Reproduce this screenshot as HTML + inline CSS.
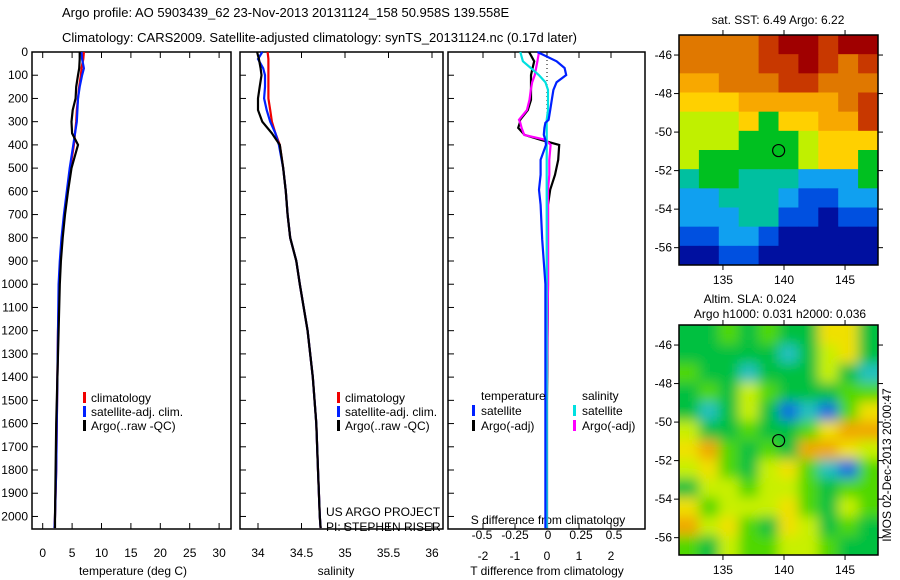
<!DOCTYPE html>
<html><head><meta charset="utf-8">
<style>
body{margin:0;background:#fff;}
svg{display:block;font-family:"Liberation Sans",sans-serif;font-size:12px;}
</style></head>
<body>
<svg id="fig" width="900" height="580">
<defs>
<filter id="blur" x="-5%" y="-5%" width="110%" height="110%"><feGaussianBlur stdDeviation="6"/></filter>
<clipPath id="slaClip"><rect x="679" y="325" width="199" height="230"/></clipPath>
</defs>
<text x="62" y="17" font-size="13">Argo profile: AO 5903439_62 23-Nov-2013 20131124_158 50.958S 139.558E</text>
<text x="62" y="42" font-size="13">Climatology: CARS2009. Satellite-adjusted climatology: synTS_20131124.nc (0.17d later)</text>
<g id="g"></g>
</svg>
<script>
// ---------- data ----------
const depthTicks=[0,100,200,300,400,500,600,700,800,900,1000,1100,1200,1300,1400,1500,1600,1700,1800,1900,2000];
const tempTicks=[0,5,10,15,20,25,30];
const salTicks=[34,34.5,35,35.5,36];
const dTTicks=[-2,-1,0,1,2];
const dSTicks=[-0.5,-0.25,0,0.25,0.5];
const dSTickLabels=["-0.5","-0.25","0","0.25","0.5"];
const profDepth=[0,30,70,100,150,200,250,300,350,400,500,600,700,800,900,1000,1200,1400,1600,1800,2000,2050];
const tempClim=[7,6.9,6.6,6.5,6.2,6,5.8,5.7,5.5,5.3,4.7,4.2,3.7,3.3,3,2.8,2.6,2.5,2.4,2.3,2.1,2.0];
const tempSat=[6.6,6.7,7.0,6.7,6.3,6.0,5.9,5.8,5.5,5.2,4.6,4.1,3.6,3.2,2.9,2.7,2.6,2.5,2.4,2.3,2.1,2.0];
const tempArgo=[6.3,6.3,6.2,6.0,5.7,5.6,5.1,4.9,5.0,6.0,4.9,4.3,3.8,3.4,3.1,2.9,2.7,2.5,2.3,2.2,2.1,2.1];
const salClim=[34.11,34.12,34.12,34.12,34.12,34.12,34.14,34.16,34.2,34.25,34.29,34.32,34.34,34.37,34.44,34.48,34.57,34.63,34.67,34.69,34.71,34.72];
const salSat=[34.05,34.0,34.06,34.08,34.08,34.07,34.1,34.14,34.2,34.24,34.29,34.32,34.34,34.37,34.44,34.48,34.57,34.63,34.67,34.69,34.71,34.72];
const salArgo=[33.99,34.01,34.03,34.04,34.02,34.0,34.0,34.05,34.16,34.25,34.29,34.32,34.34,34.37,34.44,34.48,34.57,34.63,34.67,34.69,34.71,34.72];
const diffDepth=[0,40,69,99,130,163,206,250,292,305,327,357,378,400,464,529,593,658,808,1000,1500,2050];
const dTSat=[-0.3,0.3,0.55,0.6,0.3,0.2,0.15,0.1,0.05,-0.05,-0.08,-0.1,-0.05,-0.03,-0.2,-0.2,-0.25,-0.2,-0.15,-0.05,-0.05,-0.05];
const dTArgo=[-0.56,-0.4,-0.45,-0.5,-0.5,-0.5,-0.5,-0.6,-0.84,-0.85,-0.9,-0.7,-0.2,0.38,0.35,0.25,0.1,0.03,0.03,0.03,0.0,0.0];
const dSArgo=[-0.068,-0.08,-0.09,-0.1,-0.12,-0.13,-0.14,-0.16,-0.22,-0.21,-0.2,-0.18,-0.02,0.02,0.01,0.01,0.0,0.0,0.0,0.0,-0.01,-0.01];
const dSSat=[-0.21,-0.19,-0.13,-0.07,-0.02,0.0,0.0,0.0,-0.01,-0.01,-0.01,-0.01,-0.01,-0.01,-0.01,-0.01,-0.01,-0.01,-0.01,-0.01,-0.01,-0.01];
const mapLats=[-46,-48,-50,-52,-54,-56];
const mapLons=[135,140,145];
const sstGrid=[
[8,8,8,8,9,10,10,9,10,10],
[8,8,8,8,9,9,10,9,8,9],
[7,7,8,8,8,9,9,8,8,8],
[6,6,6,7,7,7,7,7,8,9],
[5,5,5,6,4,6,6,7,7,9],
[5,5,5,4,4,4,5,6,6,6],
[5,4,4,4,4,4,5,6,6,4],
[3,4,4,3,3,3,2,2,2,4],
[2,2,3,3,3,2,1,1,2,2],
[2,2,2,3,3,1,1,0,1,1],
[1,1,2,2,1,0,0,0,0,0],
[0,0,1,1,0,0,0,0,0,0]];
const slaGrid=[
[2,2,3,2,3,2,2,5,5,2],
[2,2,2,2,2,1,2,4,5,2],
[3,2,2,1,2,2,2,4,2,1],
[2,3,2,4,3,2,2,2,3,3],
[2,1,2,4,2,0,1,0,3,5],
[4,2,2,3,2,2,3,5,6,6],
[5,6,3,2,3,2,6,6,5,4],
[4,5,3,2,4,5,3,1,0,3],
[2,4,4,3,4,4,3,2,3,3],
[5,3,4,4,4,5,3,2,4,3],
[6,4,5,3,2,5,4,2,3,2],
[3,2,4,3,3,4,4,3,2,2]];
const sstPal=["#0010a0","#0050e0","#10a0f0","#00c0a0","#00c020","#c0f000","#ffd000","#f8a800","#e07800","#c83800","#a00000"];
const slaPal=["#1070e0","#20c0c0","#00c040","#50d800","#c8f000","#f0e000","#f0a800"];

// ---------- helpers ----------
const NS="http://www.w3.org/2000/svg";
const G=document.getElementById('g');
function mk(tag,attrs,parent){const e=document.createElementNS(NS,tag);for(const k in attrs)e.setAttribute(k,attrs[k]);(parent||G).appendChild(e);return e;}
const top0=52,bot0=529,dMax=2054;
const yD=d=>top0+d*(bot0-top0)/dMax;
const xT=v=>42.7+v*5.88;
const xS=v=>258+(v-34)*87;
const xdT=v=>547+v*32;
const xdS=v=>548+v*132;

function frame(x0,x1,name){
  const r=mk('rect',{x:x0,y:top0,width:x1-x0,height:bot0-top0,fill:'none',stroke:'#000','stroke-width':1.5});
  
  
  depthTicks.forEach(d=>{mk('line',{x1:x0,x2:x0+6,y1:yD(d),y2:yD(d),stroke:'#000'});});
}
function line(xs,ys,xf,color,name){
  const pts=xs.map((v,i)=>xf(v).toFixed(1)+','+yD(ys[i]).toFixed(1)).join(' ');
  const p=mk('polyline',{points:pts,fill:'none',stroke:color,'stroke-width':2.2});
  
  
}
function txt(x,y,s,anchor,name,extra){
  const t=mk('text',Object.assign({x:x,y:y,'text-anchor':anchor||'start'},extra||{}));t.textContent=s;
  
  
  return t;
}
function legendMark(x,y,color){mk('rect',{x:x,y:y-10,width:3,height:11,fill:color});}

// ---------- panel 1 temperature ----------
frame(32,231,'temperature-panel');
depthTicks.forEach(d=>txt(28,yD(d)+4,String(d),'end','depth-tick-label'));
tempTicks.forEach(v=>{mk('line',{x1:xT(v),x2:xT(v),y1:bot0,y2:bot0-6,stroke:'#000'});mk('line',{x1:xT(v),x2:xT(v),y1:top0,y2:top0+6,stroke:'#000'});txt(xT(v),557,String(v),'middle','temp-tick-label');});
txt(133,575,'temperature (deg C)','middle','temperature-axis-title');
line(tempClim,profDepth,xT,'#f00000','temp-climatology-line');
line(tempSat,profDepth,xT,'#0020ff','temp-satellite-line');
line(tempArgo,profDepth,xT,'#000','temp-argo-line');
legendMark(83,402,'#f00000');txt(91,402,'climatology','start','legend-climatology');
legendMark(83,416,'#0020ff');txt(91,416,'satellite-adj. clim.','start','legend-satellite');
legendMark(83,430,'#000');txt(91,430,'Argo(..raw -QC)','start','legend-argo');

// ---------- panel 2 salinity ----------
frame(240,443,'salinity-panel');
salTicks.forEach(v=>{mk('line',{x1:xS(v),x2:xS(v),y1:bot0,y2:bot0-6,stroke:'#000'});mk('line',{x1:xS(v),x2:xS(v),y1:top0,y2:top0+6,stroke:'#000'});txt(xS(v),557,String(v),'middle','salinity-tick-label');});
txt(336,575,'salinity','middle','salinity-axis-title');
line(salClim,profDepth,xS,'#f00000','sal-climatology-line');
line(salSat,profDepth,xS,'#0020ff','sal-satellite-line');
line(salArgo,profDepth,xS,'#000','sal-argo-line');
legendMark(337,402,'#f00000');txt(345,402,'climatology','start','legend-climatology-sal');
legendMark(337,416,'#0020ff');txt(345,416,'satellite-adj. clim.','start','legend-satellite-sal');
legendMark(337,430,'#000');txt(345,430,'Argo(..raw -QC)','start','legend-argo-sal');
txt(326,516,'US ARGO PROJECT','start','project-credit');
txt(326,531,'PI: STEPHEN RISER','start','pi-credit');

// ---------- panel 3 differences ----------
frame(448,645,'difference-panel');
mk('line',{x1:xdT(0),x2:xdT(0),y1:top0,y2:bot0,stroke:'#000','stroke-dasharray':'1,3'});
dTTicks.forEach(v=>{mk('line',{x1:xdT(v),x2:xdT(v),y1:bot0,y2:bot0-6,stroke:'#000'});mk('line',{x1:xdT(v),x2:xdT(v),y1:top0,y2:top0+6,stroke:'#000'});txt(xdT(v),560,String(v),'middle','dT-tick-label');});
dSTicks.forEach((v,i)=>txt(xdS(v),539,dSTickLabels[i],'middle','dS-tick-label'));
txt(548,524,'S difference from climatology','middle','dS-axis-title');
txt(547,575,'T difference from climatology','middle','dT-axis-title');
line(dTArgo,diffDepth,xdT,'#000','dT-argo-line');
line(dSArgo,diffDepth,xdS,'#ff00ff','dS-argo-line');
line(dSSat,diffDepth,xdS,'#00e0e0','dS-satellite-line');
line(dTSat,diffDepth,xdT,'#0020ff','dT-satellite-line');
txt(481,400,'temperature','start','legend-temperature-header');
legendMark(472,415,'#0020ff');txt(481,415,'satellite','start','legend-dT-satellite');
legendMark(472,430,'#000');txt(481,430,'Argo(-adj)','start','legend-dT-argo');
txt(582,400,'salinity','start','legend-salinity-header');
legendMark(573,415,'#00e0e0');txt(582,415,'satellite','start','legend-dS-satellite');
legendMark(573,430,'#ff00ff');txt(582,430,'Argo(-adj)','start','legend-dS-argo');

// ---------- maps ----------
function map(y0,y1,grid,pal,name,latTop,latBot,smooth){
  const x0=679,x1=878;
  const xL=v=>x0+(v-131.4)*(x1-x0)/(147.7-131.4);
  const yL=v=>y0+(latTop-v)*(y1-y0)/(latTop-latBot);
  const rows=grid.length,cols=grid[0].length,cw=(x1-x0)/cols,ch=(y1-y0)/rows;
  const outer=mk('g',smooth?{'clip-path':'url(#slaClip)'}:{});
  
  
  const g=mk('g',smooth?{filter:'url(#blur)'}:{},outer);
  grid.forEach((row,r)=>row.forEach((c,k)=>{
    let xx=x0+k*cw,yy=y0+r*ch,w=cw+0.5,h=ch+0.5;
    if(smooth){if(k===0){xx-=12;w+=12;}if(k===cols-1)w+=12;if(r===0){yy-=12;h+=12;}if(r===rows-1)h+=12;}
    mk('rect',{x:xx,y:yy,width:w,height:h,fill:pal[c]},g);
  }));
  mk('rect',{x:x0,y:y0,width:x1-x0,height:y1-y0,fill:'none',stroke:'#000','stroke-width':1.5});
  mapLats.forEach(v=>{mk('line',{x1:x0-5,x2:x0,y1:yL(v),y2:yL(v),stroke:'#000'});mk('line',{x1:x1,x2:x1+5,y1:yL(v),y2:yL(v),stroke:'#000'});txt(x0-7,yL(v)+4,String(v),'end','lat-tick-label');});
  mapLons.forEach(v=>{mk('line',{x1:xL(v),x2:xL(v),y1:y1,y2:y1+5,stroke:'#000'});mk('line',{x1:xL(v),x2:xL(v),y1:y0-5,y2:y0,stroke:'#000'});txt(xL(v),y1+19,String(v),'middle','lon-tick-label');});
  const c=mk('circle',{cx:xL(139.56),cy:yL(-50.96),r:6,fill:'none',stroke:'#000','stroke-width':1.2});
  
  
}
map(35,265,sstGrid,sstPal,'sst-map',-44.96,-56.9,false);
txt(778,24,'sat. SST: 6.49 Argo: 6.22','middle','sst-map-title');
map(325,555,slaGrid,slaPal,'sla-map',-44.96,-56.9,true);
txt(750,303,'Altim. SLA: 0.024','middle','sla-map-title');
txt(780,318,'Argo h1000: 0.031 h2000: 0.036','middle','sla-map-subtitle');
txt(0,0,'IMOS 02-Dec-2013 20:00:47','middle','imos-timestamp',{transform:'translate(891,465) rotate(-90)'});
</script>
</body></html>
